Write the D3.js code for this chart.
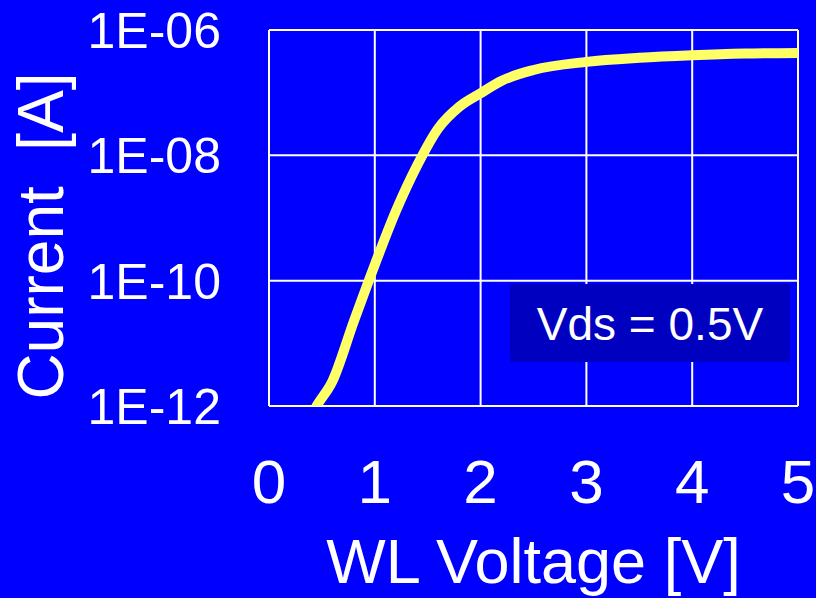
<!DOCTYPE html>
<html>
<head>
<meta charset="utf-8">
<script src="https://cdn.jsdelivr.net/npm/d3@7"></script>
<style>
  html, body { margin: 0; padding: 0; background: #0000ff; }
  text { font-family: "Liberation Sans", Arial, sans-serif; fill: #ffffff; }
</style>
</head>
<body>
<div id="chart"></div>
<script>
// WL voltage [V] vs drain current [A]
const voltage = [0.40, 0.45, 0.60, 0.80, 1.00, 1.20, 1.40, 1.60, 1.80, 2.00, 2.20, 2.50, 3.00, 3.50, 4.00, 4.50, 5.00];
const current = [7e-13, 1.0e-12, 2.5e-12, 2.2e-11, 1.8e-10, 1.3e-9, 6.9e-9, 2.7e-8, 6.0e-8, 9.8e-8, 1.55e-7, 2.3e-7, 3.1e-7, 3.6e-7, 3.95e-7, 4.2e-7, 4.3e-7];

const xTicks = [0, 1, 2, 3, 4, 5];
const yTicks = [1e-12, 1e-10, 1e-8, 1e-6];
const yTickLabels = ['1E-12', '1E-10', '1E-08', '1E-06'];
const legendText = 'Vds = 0.5V';

const totalWidth = 816, totalHeight = 598;
const margin = {top: 30, right: 18, bottom: 192, left: 269};
const width = totalWidth - margin.left - margin.right,
      height = totalHeight - margin.top - margin.bottom;

const svg = d3.select('#chart')
  .append('svg')
    .attr('width', totalWidth)
    .attr('height', totalHeight);

svg.append('rect')
  .attr('width', totalWidth)
  .attr('height', totalHeight)
  .attr('fill', '#0000ff');

const g = svg.append('g')
  .attr('transform', 'translate(' + margin.left + ',' + margin.top + ')');

const x = d3.scaleLinear().domain([0, 5]).range([0, width]);
const y = d3.scaleLog().domain([1e-12, 1e-6]).range([height, 0]);

// Grid lines
g.append('g')
  .selectAll('line')
  .data(xTicks)
  .enter()
  .append('line')
    .attr('x1', d => x(d)).attr('x2', d => x(d))
    .attr('y1', 0).attr('y2', height)
    .attr('stroke', '#ffffff')
    .attr('stroke-width', 2);

g.append('g')
  .selectAll('line')
  .data(yTicks)
  .enter()
  .append('line')
    .attr('x1', 0).attr('x2', width)
    .attr('y1', d => y(d)).attr('y2', d => y(d))
    .attr('stroke', '#ffffff')
    .attr('stroke-width', 2);

// Y tick labels
g.append('g')
  .selectAll('text')
  .data(yTicks)
  .enter()
  .append('text')
    .attr('x', -48)
    .attr('y', d => y(d))
    .attr('dy', '0.36em')
    .attr('text-anchor', 'end')
    .style('font-size', '50px')
    .text((d, i) => yTickLabels[i]);

// X tick labels
g.append('g')
  .selectAll('text')
  .data(xTicks)
  .enter()
  .append('text')
    .attr('x', d => x(d))
    .attr('y', height + 97)
    .attr('text-anchor', 'middle')
    .style('font-size', '62px')
    .text(d => d);

// Axis titles
svg.append('text')
  .attr('x', margin.left + width / 2)
  .attr('y', 583)
  .attr('text-anchor', 'middle')
  .style('font-size', '63px')
  .text('WL Voltage [V]');

svg.append('text')
  .attr('transform', 'translate(63,236) rotate(-90)')
  .attr('text-anchor', 'middle')
  .style('font-size', '64px')
  .style('white-space', 'pre')
  .text('Current  [A]');

// Legend box
g.append('rect')
  .attr('x', 510 - margin.left)
  .attr('y', 284 - margin.top)
  .attr('width', 280)
  .attr('height', 78)
  .attr('fill', '#0000c0');

g.append('text')
  .attr('x', 650 - margin.left)
  .attr('y', 340 - margin.top)
  .attr('text-anchor', 'middle')
  .style('font-size', '46px')
  .text(legendText);

// Curve
g.append('clipPath')
  .attr('id', 'plot-clip')
  .append('rect')
    .attr('width', width + 2)
    .attr('height', height);

const line = d3.line()
  .x((d, i) => x(voltage[i]))
  .y(d => y(d))
  .curve(d3.curveMonotoneX);

g.append('path')
  .datum(current)
  .attr('clip-path', 'url(#plot-clip)')
  .attr('d', line)
  .attr('fill', 'none')
  .attr('stroke', '#ffff66')
  .attr('stroke-width', 10)
  .attr('stroke-linejoin', 'round');
</script>
</body>
</html>
